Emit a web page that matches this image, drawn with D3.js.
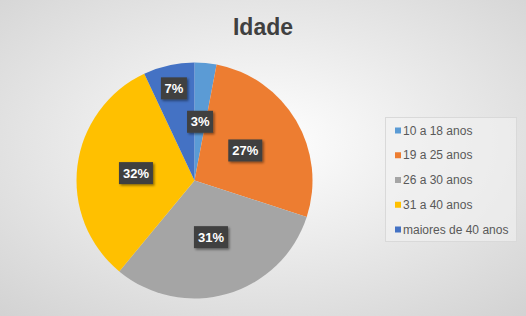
<!DOCTYPE html>
<html><head><meta charset="utf-8">
<script src="https://cdn.jsdelivr.net/npm/d3@7"></script>
<style>html,body{margin:0;padding:0;}svg{display:block;}</style>
</head><body>
<svg id="chart" width="526" height="316"></svg>
<script>
const title = "Idade";
const categories = ["10 a 18 anos", "19 a 25 anos", "26 a 30 anos", "31 a 40 anos", "maiores de 40 anos"];
const values = [3, 27, 31, 32, 7];
const colors = ["#5b9bd5", "#ed7d31", "#a5a5a5", "#ffc000", "#4472c4"];

const W = 526, H = 316;
const svg = d3.select("#chart");
const defs = svg.append("defs");
const rg = defs.append("radialGradient").attr("id", "bg")
  .attr("cx", "50%").attr("cy", "45%").attr("r", "75%");
rg.append("stop").attr("offset", "0%").attr("stop-color", "#ffffff");
rg.append("stop").attr("offset", "100%").attr("stop-color", "#d2d2d2");
const sh = defs.append("filter").attr("id", "shadow").attr("x", "-30%").attr("y", "-30%").attr("width", "170%").attr("height", "170%");
sh.append("feDropShadow").attr("dx", 1.5).attr("dy", 1.5).attr("stdDeviation", 1.2).attr("flood-color", "#000").attr("flood-opacity", 0.45);

svg.append("rect").attr("width", W).attr("height", H).attr("fill", "url(#bg)");

svg.append("text").attr("x", 263).attr("y", 35).attr("text-anchor", "middle")
  .attr("font-family", "Liberation Sans, Arial, sans-serif").attr("font-weight", "bold")
  .attr("font-size", 23).attr("fill", "#404040").text(title);

const cx = 194.5, cy = 180.5, R = 118;
const data = categories.map((c, i) => ({ cat: c, value: values[i], color: colors[i] }));
const pie = d3.pie().value(d => d.value).sort(null);
const arcs = pie(data);
const arc = d3.arc().innerRadius(0).outerRadius(R);
const g = svg.append("g").attr("transform", `translate(${cx},${cy})`);
g.selectAll("path").data(arcs).join("path")
  .attr("d", arc).attr("fill", d => d.data.color);

const total = d3.sum(values);
const fmt = d => Math.round(d.data.value / total * 100) + "%";
const lg = svg.append("g").attr("font-family", "Liberation Sans, Arial, sans-serif");
const placed = [];
arcs.forEach(d => {
  const txt = fmt(d);
  const w = txt.length * 8 + 10, h = 22;
  const mid = (d.startAngle + d.endAngle) / 2;
  let r = R * 0.5;
  let x = cx + r * Math.sin(mid), y = cy - r * Math.cos(mid);
  const hit = placed.some(p => Math.abs(p.x - x) < (p.w + w) / 2 && Math.abs(p.y - y) < (p.h + h) / 2);
  if (hit) { r = R * 0.8; x = cx + r * Math.sin(mid); y = cy - r * Math.cos(mid); }
  placed.push({ x, y, w, h });
  const lab = lg.append("g").attr("transform", `translate(${x},${y})`);
  lab.append("rect").attr("x", -w / 2).attr("y", -h / 2).attr("width", w).attr("height", h)
    .attr("fill", "#404040").attr("filter", "url(#shadow)");
  lab.append("text").attr("text-anchor", "middle").attr("dy", "0.36em")
    .attr("font-size", 13).attr("font-weight", "bold").attr("fill", "#ffffff").text(txt);
});

const leg = svg.append("g").attr("font-family", "Liberation Sans, Arial, sans-serif");
leg.append("rect").attr("x", 385.5).attr("y", 117.5).attr("width", 131).attr("height", 124)
  .attr("fill", "#f2f2f2").attr("fill-opacity", 0.6).attr("stroke", "#d9d9d9");
const ly = d3.scalePoint().domain(categories).range([130.5, 229.5]);
categories.forEach((c, i) => {
  leg.append("rect").attr("x", 395).attr("y", ly(c) - 3).attr("width", 6).attr("height", 6).attr("fill", colors[i]);
  leg.append("text").attr("x", 403).attr("y", ly(c)).attr("dy", "0.35em")
    .attr("font-size", 12).attr("fill", "#595959").text(c);
});
</script>
</body></html>
